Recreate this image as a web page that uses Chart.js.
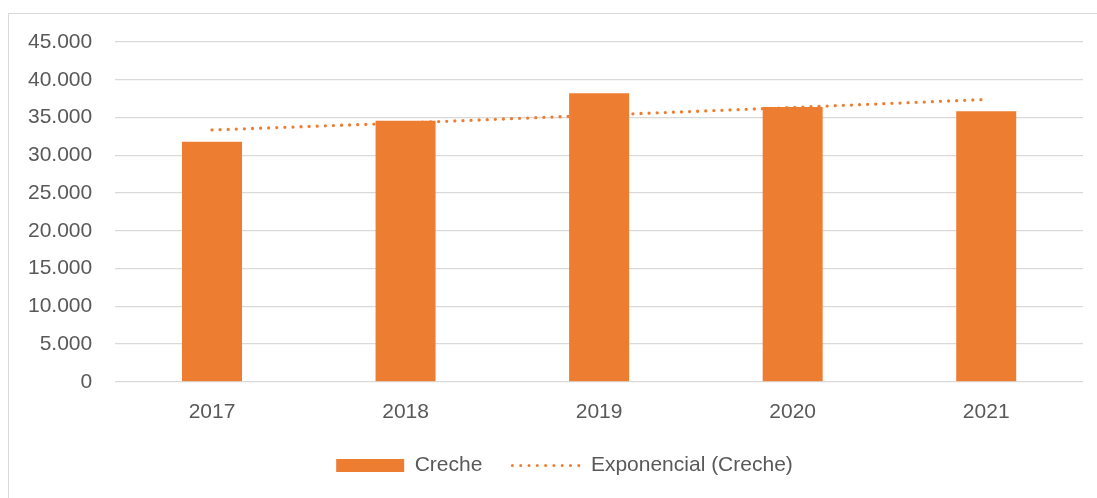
<!DOCTYPE html>
<html>
<head>
<meta charset="utf-8">
<script src="https://cdn.jsdelivr.net/npm/chart.js@4/dist/chart.umd.min.js"></script>
<style>
  html, body { margin: 0; padding: 0; background: #fff; }
  #wrap { position: relative; width: 1097px; height: 498px; }
  canvas { display: block; }
  #frame { position: absolute; left: 8px; top: 13px; right: -2px; bottom: -2px;
           border-left: 1px solid #d9d9d9; border-top: 1px solid #d9d9d9; pointer-events: none; }
</style>
</head>
<body>
<div id="wrap">
  <canvas id="myChart" width="1097" height="498"></canvas>
  <div id="frame"></div>
</div>
<script>
// categorias e valores
var years = ["2017", "2018", "2019", "2020", "2021"];
var creche = [31800, 34580, 38210, 36400, 35830];
var trend = [33350, 34280, 35310, 36330, 37390];
var yTicks = [0, 5000, 10000, 15000, 20000, 25000, 30000, 35000, 40000, 45000];

var orange = "#ED7D31";
var textColor = "#595959";
var gridColor = "#d9d9d9";

function fmt(v) {
  return String(v).replace(/\B(?=(\d{3})+(?!\d))/g, ".");
}

// legenda do Excel fica um pouco à direita do centro
var shiftLegend = {
  id: "shiftLegend",
  beforeDraw: function (c) {
    c.legend.left = 46;
  },
};

Chart.defaults.font.family = "'Liberation Sans', Arial, sans-serif";
Chart.defaults.font.size = 21;
Chart.defaults.color = textColor;

var ctx = document.getElementById("myChart").getContext("2d");
var chart = new Chart(ctx, {
  type: "bar",
  data: {
    labels: years,
    datasets: [
      {
        label: "Creche",
        data: creche,
        backgroundColor: orange,
        borderWidth: 0,
        barPercentage: 0.31,
        categoryPercentage: 1,
        order: 1,
      },
      {
        type: "line",
        label: "Exponencial (Creche)",
        data: trend,
        borderColor: orange,
        borderWidth: 3.3,
        borderDash: [0, 8.1],
        borderCapStyle: "round",
        pointRadius: 0,
        fill: false,
        order: 2,
      },
    ],
  },
  plugins: [shiftLegend],
  options: {
    responsive: false,
    animation: false,
    layout: { padding: { left: 28, right: 14, top: 42, bottom: 12 } },
    plugins: {
      tooltip: { enabled: false },
      legend: {
        position: "bottom",
        labels: {
          usePointStyle: true,
          pointStyleWidth: 68,
          boxHeight: 13,
          padding: 30,
          color: textColor,
          generateLabels: function (c) {
            return c.data.datasets.map(function (ds, i) {
              var isLine = ds.type === "line";
              return {
                text: ds.label,
                datasetIndex: i,
                fillStyle: isLine ? "rgba(0,0,0,0)" : orange,
                strokeStyle: orange,
                lineWidth: isLine ? 3 : 0,
                lineDash: isLine ? [0, 8.3] : [],
                lineCap: "round",
                pointStyle: isLine ? "line" : "rect",
                fontColor: textColor,
              };
            });
          },
        },
      },
    },
    scales: {
      x: {
        grid: { display: false, drawTicks: true, tickLength: 18 },
        border: { display: false },
        ticks: { padding: 0, color: textColor },
      },
      y: {
        min: 0,
        max: 45000,
        afterBuildTicks: function (s) {
          s.ticks = yTicks.map(function (v) { return { value: v }; });
        },
        grid: { color: gridColor, lineWidth: 1.3, drawTicks: true, tickLength: 23, tickColor: "rgba(0,0,0,0)" },
        border: { display: false },
        ticks: {
          padding: 0,
          color: textColor,
          callback: function (v) { return fmt(v); },
        },
      },
    },
  },
});
</script>
</body>
</html>
